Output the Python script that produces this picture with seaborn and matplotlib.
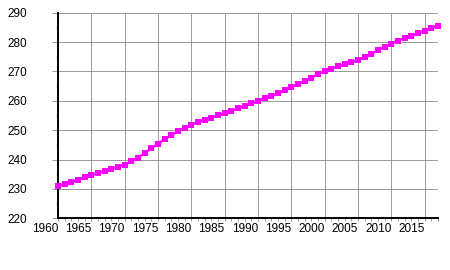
import matplotlib
matplotlib.use('Agg')
import matplotlib.pyplot as plt
import seaborn as sns
import pandas as pd
from matplotlib.ticker import MultipleLocator

years = list(range(1960, 2018))
values = [231.0, 231.7, 232.4, 233.1, 233.9, 234.7, 235.5, 236.2, 236.8, 237.5,
          238.3, 239.4, 240.7, 242.2, 243.8, 245.4, 246.9, 248.3, 249.6, 250.8,
          251.9, 252.8, 253.6, 254.3, 255.0, 255.7, 256.5, 257.4, 258.2, 259.1,
          260.0, 260.9, 261.7, 262.6, 263.6, 264.6, 265.7, 266.8, 267.9, 269.1,
          270.2, 270.9, 271.7, 272.4, 273.1, 273.9, 274.9, 276.0, 277.2, 278.4,
          279.5, 280.5, 281.4, 282.2, 283.0, 283.9, 284.7, 285.6]

sns.set_style('white')
plt.rcParams['font.family'] = ['Liberation Sans', 'DejaVu Sans']

fig = plt.figure(figsize=(4.5, 2.7), dpi=100)
ax = fig.add_axes([58/450, 1-218.3/270, 380/450, 205.6/270])

df = pd.DataFrame({'year': years, 'value': values})
sns.lineplot(data=df, x='year', y='value', ax=ax, color='#ff00ff', lw=1.8,
             marker='s', markersize=4, markeredgewidth=0, clip_on=False, zorder=5)

ax.set_xlim(1960, 2017)
ax.set_ylim(220, 290)
ax.xaxis.set_major_locator(MultipleLocator(5))
ax.xaxis.set_minor_locator(MultipleLocator(1))
ax.yaxis.set_major_locator(MultipleLocator(10))
ax.yaxis.set_minor_locator(MultipleLocator(5))
ax.grid(True, which='major', color='#8c8c8c', lw=0.6)
ax.set_axisbelow(True)
for s in ['top', 'right']:
    ax.spines[s].set_visible(False)
for s in ['left', 'bottom']:
    ax.spines[s].set_color('black')
    ax.spines[s].set_linewidth(1.4)

ax.tick_params(axis='y', which='major', direction='out', length=4.3, width=0.6,
               color='#8c8c8c', pad=32.4, labelsize=8.5, left=True, labelcolor='black')
ax.tick_params(axis='y', which='minor', direction='out', length=1.8, width=0.6,
               color='#8c8c8c', left=True)
ax.tick_params(axis='x', which='major', direction='out', length=2.5, width=0.6,
               color='#8c8c8c', pad=1, labelsize=8.5, bottom=True, labelcolor='black')
ax.tick_params(axis='x', which='minor', direction='out', length=2.0, width=0.6,
               color='#8c8c8c', bottom=True)
for lab in ax.get_yticklabels():
    lab.set_horizontalalignment('left')
for lab in ax.get_xticklabels():
    lab.set_horizontalalignment('right')
ax.set_xlabel('')
ax.set_ylabel('')

fig.savefig('out.png', dpi=100, facecolor='white')
